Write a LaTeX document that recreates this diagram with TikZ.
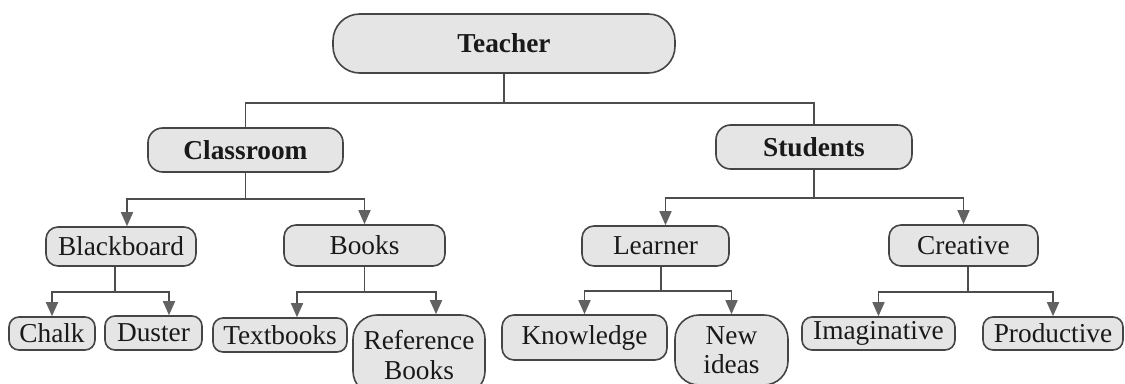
\documentclass[tikz,border=0pt]{standalone}
\usepackage{fontspec}
\setmainfont{Liberation Serif}
\usetikzlibrary{arrows.meta,calc}

\definecolor{boxfill}{HTML}{E5E5E5}
\definecolor{boxline}{HTML}{454545}
\definecolor{linkline}{HTML}{4D4D4D}
\definecolor{tipgray}{HTML}{626262}

\tikzset{
  boxsize/.style 2 args={minimum width=#1*0.75pt, minimum height=#2*0.75pt},
  mapbox/.style={draw=boxline, fill=boxfill, line width=1.2pt, inner sep=0pt,
    text=black!90, font=\fontsize{20.5}{22}\selectfont, align=center},
  topbox/.style={mapbox, font=\fontsize{20.5}{22}\selectfont\bfseries},
  trunk/.style={draw=linkline, line width=1.2pt},
  arrowline/.style={trunk, -{Triangle[width=9pt,length=10.5pt,fill=tipgray,color=tipgray]}}
}

\begin{document}
\begin{tikzpicture}[x=0.75pt,y=0.75pt,yscale=-1,xscale=1]
\fill[white] (0,0) rectangle (1125,383);
\useasboundingbox (0,0) rectangle (1125,383);
\clip (0,0) rectangle (1125,383);

%Rounded Rect [top]
\node (teacher) at (504,43.5) [topbox, boxsize={342}{59}, rounded corners=20pt] {Teacher};
%Rounded Rect [level 1]
\node (classroom) at (245.5,150) [topbox, boxsize={195}{44}, rounded corners=11pt] {Classroom};
\node (students) at (814,147) [topbox, boxsize={196}{44}, rounded corners=11pt] {Students};
%Rounded Rect [level 2]
\node (blackboard) at (121,246.5) [mapbox, boxsize={150}{39}, rounded corners=9pt] {Blackboard};
\node (books) at (364.5,245.5) [mapbox, boxsize={161}{41}, rounded corners=9pt] {Books};
\node (learner) at (655.5,246) [mapbox, boxsize={147}{40}, rounded corners=9pt] {Learner};
\node (creative) at (963.5,245.5) [mapbox, boxsize={149}{41}, rounded corners=9pt] {Creative};
%Rounded Rect [level 3]
\node (chalk) at (52,333.5) [mapbox, boxsize={86}{33}, rounded corners=7.5pt] {Chalk};
\node (duster) at (153.5,333) [mapbox, boxsize={97}{34}, rounded corners=7.5pt] {Duster};
\node (textbooks) at (280,335) [mapbox, boxsize={134}{34}, rounded corners=7.5pt] {Textbooks};
\node (refbooks) at (419,355) [mapbox, boxsize={132}{80}, rounded corners=18pt] {Reference\\Books};
\node (knowledge) at (584.5,337.5) [mapbox, boxsize={165}{45}, rounded corners=9pt] {Knowledge};
\node (newideas) at (731.5,350) [mapbox, boxsize={113}{70}, rounded corners=18pt] {New\\ideas};
\node (imaginative) at (878.5,333.5) [mapbox, boxsize={153}{33}, rounded corners=7.5pt] {Imaginative};
\node (productive) at (1053,333.5) [mapbox, boxsize={140}{33}, rounded corners=7.5pt] {Productive};

%Straight Lines [Teacher]
\draw[trunk] (teacher.south) -- (teacher.south |- 0,103) coordinate (jTeacher);
\draw[trunk] (jTeacher) -| (classroom.north);
\draw[trunk] (jTeacher) -| (students.north);

%Straight Lines [Classroom]
\draw[trunk] (classroom.south) -- (classroom.south |- 0,199) coordinate (jClassroom);
\draw[arrowline] (jClassroom) -| ($(blackboard.north)+(6,0)$);
\draw[arrowline] (jClassroom) -| (books.north);

%Straight Lines [Students]
\draw[trunk] (students.south) -- (students.south |- 0,198) coordinate (jStudents);
\draw[arrowline] (jStudents) -| ($(learner.north)+(10,0)$);
\draw[arrowline] (jStudents) -| (creative.north);

%Straight Lines [Blackboard]
\draw[trunk] ($(blackboard.south)+(-6,0)$) -- ++(0,25) coordinate (jBlackboard);
\draw[arrowline] (jBlackboard) -| (chalk.north);
\draw[arrowline] (jBlackboard) -| ($(duster.north)+(15.5,0)$);

%Straight Lines [Books]
\draw[trunk] (books.south) -- (books.south |- 0,292) coordinate (jBooks);
\draw[arrowline] (jBooks) -| ($(textbooks.north)+(17,0)$);
\draw[arrowline] (jBooks) -| ($(refbooks.north)+(17,0)$);

%Straight Lines [Learner]
\draw[trunk] ($(learner.south)+(5.5,0)$) -- ++(0,24) coordinate (jLearner);
\draw[arrowline] (jLearner) -| (knowledge.north);
\draw[arrowline] (jLearner) -| (newideas.north);

%Straight Lines [Creative]
\draw[trunk] ($(creative.south)+(4.5,0)$) -- ++(0,25) coordinate (jCreative);
\draw[arrowline] (jCreative) -| (imaginative.north);
\draw[arrowline] (jCreative) -| (productive.north);

\end{tikzpicture}
\end{document}
